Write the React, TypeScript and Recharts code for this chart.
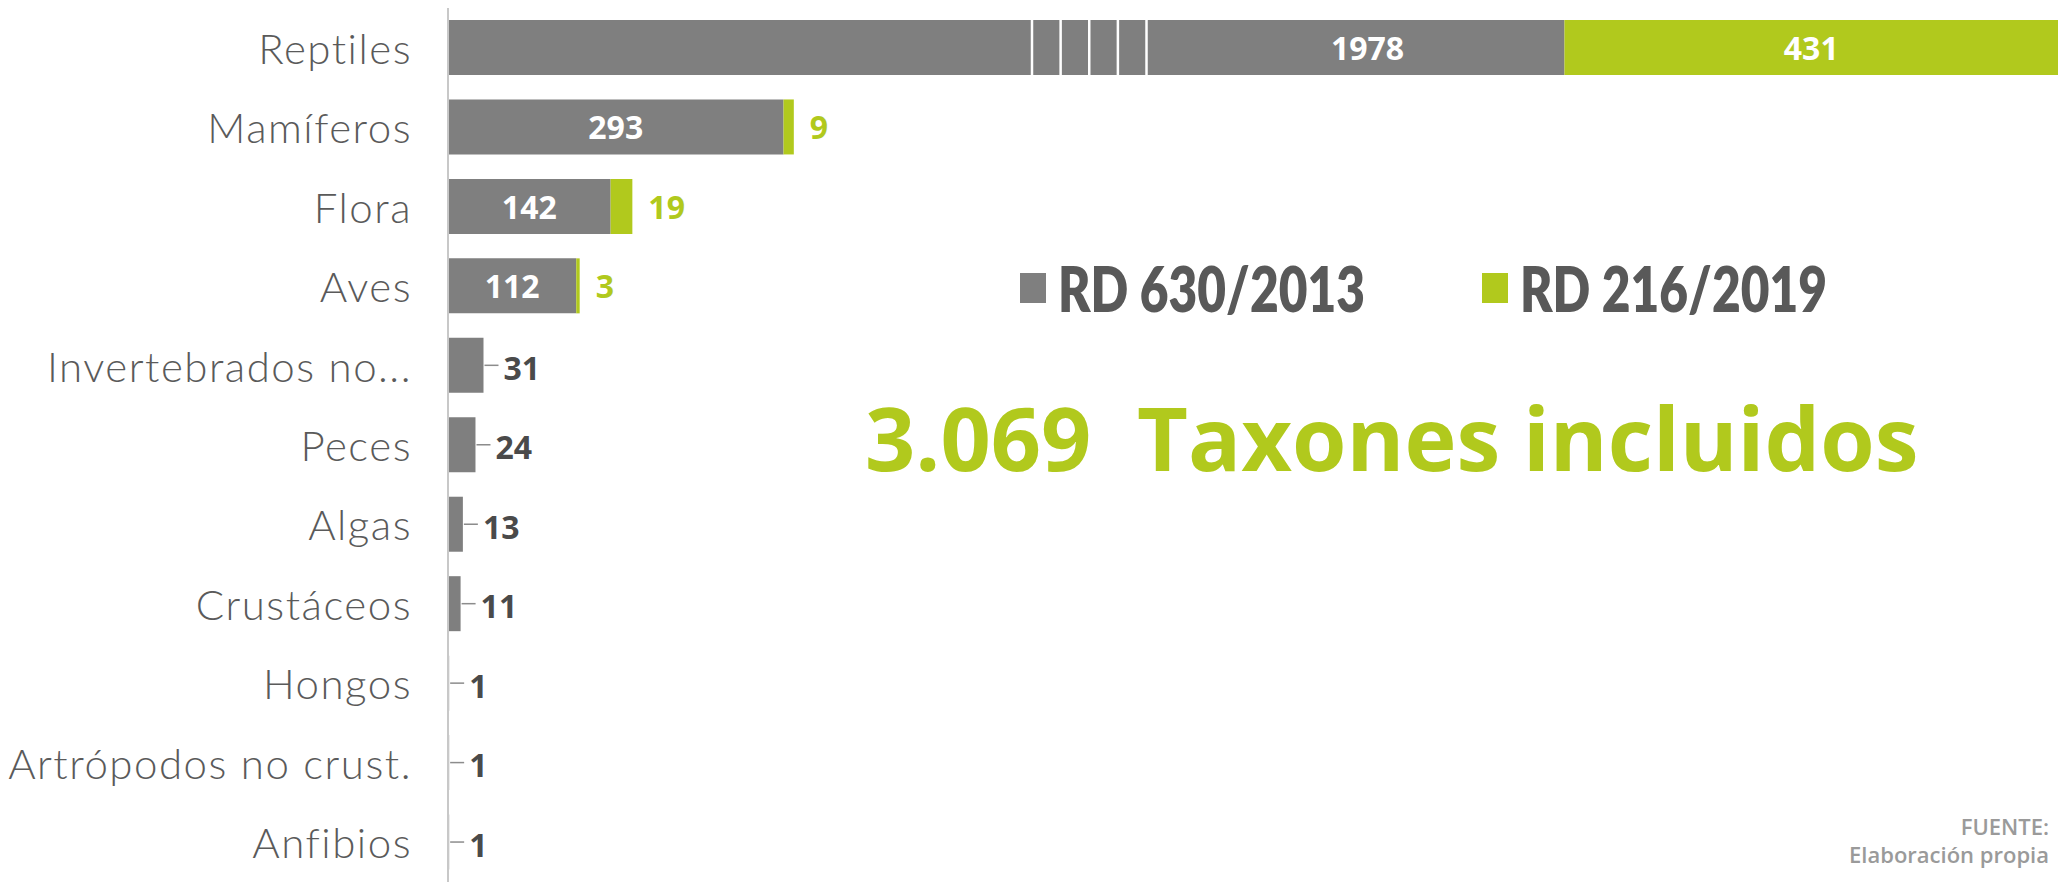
import React from 'react';
import { BarChart, Bar, XAxis, YAxis, LabelList, Rectangle } from 'recharts';

const categories = [
  'Reptiles',
  'Mamíferos',
  'Flora',
  'Aves',
  'Invertebrados no...',
  'Peces',
  'Algas',
  'Crustáceos',
  'Hongos',
  'Artrópodos no crust.',
  'Anfibios',
];
const rd2013 = [1978, 293, 142, 112, 31, 24, 13, 11, 1, 1, 1];
const rd2019 = [431, 9, 19, 3, 0, 0, 0, 0, 0, 0, 0];
const seriesNames = ['RD 630/2013', 'RD 216/2019'];

// broken axis: values above BREAK_FROM lose BREAK_HIDDEN units
const BREAK_FROM = 510;
const BREAK_HIDDEN = 1003;
const BREAK_MARKS = 5;
const BREAK_STEP = 25;

const GRAY = '#7f7f7f';
const GREEN = '#b1c91d';
const TEXT = '#5a5a5a';
const VALUE = '#4a4a4a';

const shown = (v: number) => (v > BREAK_FROM ? v - BREAK_HIDDEN : v);

const data = categories.map((name, i) => ({
  name,
  rd2013: rd2013[i],
  rd2019: rd2019[i],
  plot2013: shown(rd2013[i]),
}));

const CategoryTick = (props: any) => {
  const { x, y, payload } = props;
  return (
    <text
      x={x}
      y={y}
      textAnchor="end"
      dominantBaseline="central"
      fontFamily="Lato, sans-serif"
      fontWeight={300}
      fontSize={42}
      letterSpacing={1.5}
      fill={TEXT}
    >
      {payload.value}
    </text>
  );
};

const GrayShape = (props: any) => {
  const { x, y, width, height, payload } = props;
  const broken = payload.rd2013 > BREAK_FROM;
  const unit = width / payload.plot2013;
  return (
    <g>
      <Rectangle x={x} y={y} width={width} height={height} fill={GRAY} />
      {broken &&
        Array.from({ length: BREAK_MARKS }).map((_, k) => {
          const bx = x + (BREAK_FROM + k * BREAK_STEP) * unit;
          return <line key={k} x1={bx} x2={bx} y1={y} y2={y + height} stroke="#fff" strokeWidth={2.5} />;
        })}
    </g>
  );
};

const GrayLabel = (props: any) => {
  const { x, y, width, height, value } = props;
  const cy = y + height / 2;
  if (value >= 100) {
    let cx = x + width / 2;
    if (value > BREAK_FROM) {
      const unit = width / shown(value);
      const after = x + (BREAK_FROM + (BREAK_MARKS - 1) * BREAK_STEP) * unit;
      cx = (after + x + width) / 2 + 12;
    }
    return (
      <text
        x={cx}
        y={cy}
        textAnchor="middle"
        dominantBaseline="central"
        fontFamily="'Open Sans', sans-serif"
        fontWeight={700}
        fontSize={32}
        fill="#fff"
      >
        {value}
      </text>
    );
  }
  const end = x + width;
  return (
    <g>
      <line x1={end + 1} x2={end + 15} y1={cy} y2={cy} stroke="#8c8c8c" strokeWidth={1.5} />
      <text
        x={end + 20}
        y={cy + 2}
        textAnchor="start"
        dominantBaseline="central"
        fontFamily="'Open Sans', sans-serif"
        fontWeight={700}
        fontSize={32}
        fill={VALUE}
      >
        {value}
      </text>
    </g>
  );
};

const GreenLabel = (props: any) => {
  const { x, y, width, height, value } = props;
  if (!value) return null;
  const cy = y + height / 2;
  const inside = value >= 100;
  return (
    <text
      x={inside ? x + width / 2 : x + width + 16}
      y={cy}
      textAnchor={inside ? 'middle' : 'start'}
      dominantBaseline="central"
      fontFamily="'Open Sans', sans-serif"
      fontWeight={700}
      fontSize={32}
      fill={inside ? '#fff' : GREEN}
    >
      {value}
    </text>
  );
};

const legendText: React.CSSProperties = {
  display: 'inline-block',
  transform: 'scaleX(0.8)',
  transformOrigin: 'left center',
  width: 320,
  whiteSpace: 'nowrap',
};

export default function App() {
  return (
    <div style={{ position: 'absolute', left: 0, top: 0, width: 2071, height: 882, background: '#fff', overflow: 'hidden' }}>
      <BarChart
        width={2071}
        height={882}
        data={data}
        layout="vertical"
        margin={{ top: 8, right: 13, bottom: 0, left: 0 }}
        barSize={55}
      >
        <XAxis type="number" hide domain={[0, 'dataMax']} />
        <YAxis
          type="category"
          dataKey="name"
          width={448}
          tickLine={false}
          tickSize={0}
          tickMargin={36}
          axisLine={{ stroke: '#c8c8c8', strokeWidth: 2 }}
          tick={<CategoryTick />}
          interval={0}
        />
        <Bar dataKey="plot2013" name={seriesNames[0]} stackId="a" fill={GRAY} shape={<GrayShape />} isAnimationActive={false}>
          <LabelList dataKey="rd2013" content={<GrayLabel />} />
        </Bar>
        <Bar dataKey="rd2019" name={seriesNames[1]} stackId="a" fill={GREEN} isAnimationActive={false}>
          <LabelList dataKey="rd2019" content={<GreenLabel />} />
        </Bar>
      </BarChart>
      <div
        style={{
          position: 'absolute',
          left: 1020,
          top: 250,
          display: 'flex',
          alignItems: 'center',
          fontFamily: 'Lato, sans-serif',
          fontWeight: 800,
          fontSize: 62,
          lineHeight: '76px',
          color: '#595959',
        }}
      >
        <span style={{ width: 26, height: 30, background: GRAY, marginRight: 12, display: 'inline-block' }} />
        <span style={legendText}>{seriesNames[0]}</span>
        <span style={{ width: 26, height: 30, background: GREEN, marginLeft: 104, marginRight: 12, display: 'inline-block' }} />
        <span style={legendText}>{seriesNames[1]}</span>
      </div>
      <div
        style={{
          position: 'absolute',
          left: 865,
          top: 393,
          fontFamily: "'Open Sans', sans-serif",
          fontWeight: 700,
          fontSize: 88,
          color: GREEN,
          whiteSpace: 'pre',
          lineHeight: 1,
        }}
      >
        {'3.069  Taxones incluidos'}
      </div>
      <div
        style={{
          position: 'absolute',
          right: 22,
          top: 812,
          textAlign: 'right',
          fontFamily: "'Open Sans', sans-serif",
          fontWeight: 600,
          fontSize: 22,
          lineHeight: '28px',
          color: '#9a9a9a',
        }}
      >
        <div>FUENTE:</div>
        <div>Elaboración propia</div>
      </div>
    </div>
  );
}
